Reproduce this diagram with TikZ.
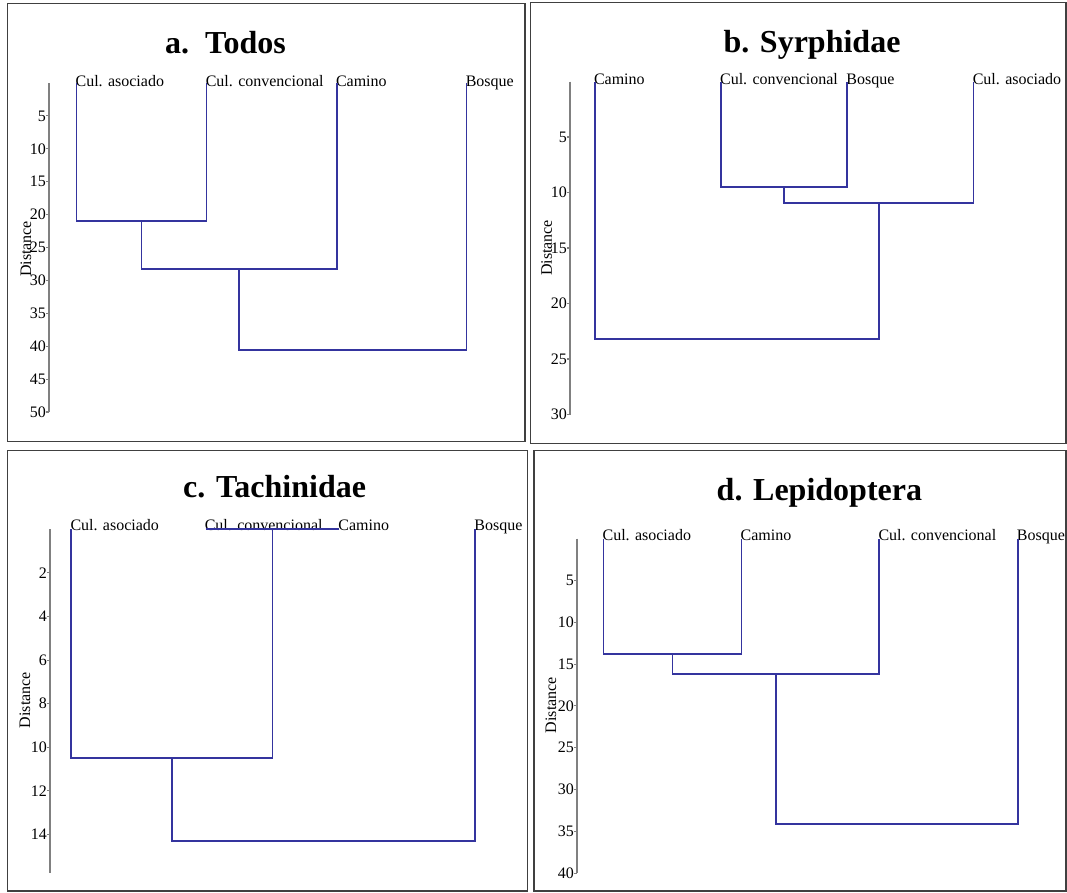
\documentclass[tikz,border=0pt]{standalone}
\usepackage{fontspec}
\setmainfont{Liberation Serif}
\definecolor{dendro}{RGB}{52,52,158}
\definecolor{axisgray}{RGB}{128,128,128}
\definecolor{framegray}{RGB}{64,64,64}
\tikzset{
  panelframe/.style={draw=framegray, line width=1.4pt},
  tree/.style={draw=dendro, line width=1.7pt},
  axisline/.style={draw=axisgray, line width=1.1pt},
  ticklab/.style={anchor=east, inner sep=0pt, font=\fontsize{16}{16}\selectfont},
  leaflab/.style={anchor=base west, inner sep=0pt, font=\fontsize{16}{16}\selectfont},
  titlelab/.style={anchor=base, inner sep=0pt, font=\fontsize{32}{32}\selectfont\bfseries},
  ylab/.style={rotate=90, inner sep=0pt, font=\fontsize{16}{16}\selectfont},
}
\begin{document}
\begin{tikzpicture}[x=1pt,y=-1pt]
\useasboundingbox (0,0) rectangle (1067,892);
\fill[white] (0,0) rectangle (1067,892);

% ---------------- Panel a ----------------
\draw[panelframe] (7.6,3.4) rectangle (525,441.7);
\node[titlelab] (ta) at (225.5,53) {a.\ \ Todos};
\coordinate (a0) at (49,83);
\coordinate (a50) at (49,412);
\draw[axisline] (a0) -- (a50);
\foreach \v in {5,10,...,50}{
  \draw[axisline] (46,83+6.58*\v) -- (49,83+6.58*\v);
  \node[ticklab] (at\v) at (46,83+6.58*\v) {\v};
}
\node[ylab] (ya) at (26,249) {Distance};
\coordinate (aL1) at (76.4,83);
\coordinate (aL2) at (206.6,83);
\coordinate (aL3) at (336.8,83);
\coordinate (aL4) at (466.6,83);
\node[leaflab] (an1) at (75.4,86) {Cul. asociado};
\node[leaflab] (an2) at (205.6,86) {Cul. convencional};
\node[leaflab] (an3) at (335.8,86) {Camino};
\node[leaflab] (an4) at (465.6,86) {Bosque};
\coordinate (aM1) at (141.5,220.7);
\coordinate (aM2) at (239.2,269);
\coordinate (aM3) at (352.9,350);
\draw[tree] (aL1) |- (aM1) -| (aL2);
\draw[tree] (aM1) |- (aM2) -| (aL3);
\draw[tree] (aM2) |- (aM3) -| (aL4);

% ---------------- Panel b ----------------
\draw[panelframe] (530.4,2.7) rectangle (1066,443.3);
\node[titlelab] (tb) at (812,52.7) {b. Syrphidae};
\coordinate (b0) at (570,81.5);
\coordinate (b30) at (570,414.5);
\draw[axisline] (b0) -- (b30);
\foreach \v in {5,10,...,30}{
  \draw[axisline] (567,81.5+11.1*\v) -- (570,81.5+11.1*\v);
  \node[ticklab] (bt\v) at (567,81.5+11.1*\v) {\v};
}
\node[ylab] (yb) at (546.6,248) {Distance};
\coordinate (bL1) at (594.8,81.5);
\coordinate (bL2) at (720.9,81.5);
\coordinate (bL3) at (847.2,81.5);
\coordinate (bL4) at (973.6,81.5);
\node[leaflab] (bn1) at (593.8,84) {Camino};
\node[leaflab] (bn2) at (719.9,84) {Cul. convencional};
\node[leaflab] (bn3) at (846.2,84) {Bosque};
\node[leaflab] (bn4) at (972.6,84) {Cul. asociado};
\coordinate (bM1) at (784,186.7);
\coordinate (bM2) at (878.8,203.3);
\coordinate (bM3) at (736.8,339.3);
\draw[tree] (bL2) |- (bM1) -| (bL3);
\draw[tree] (bM1) |- (bM2) -| (bL4);
\draw[tree] (bM2) |- (bM3) -| (bL1);

% ---------------- Panel c ----------------
\draw[panelframe] (7.6,450.3) rectangle (527.6,891);
\node[titlelab] (tc) at (274.6,497) {c. Tachinidae};
\coordinate (c0) at (50,529.3);
\coordinate (cEnd) at (50,873);
\draw[axisline] (c0) -- (cEnd);
\foreach \v in {2,4,...,14}{
  \draw[axisline] (47,529.3+21.8*\v) -- (50,529.3+21.8*\v);
  \node[ticklab] (ct\v) at (47,529.3+21.8*\v) {\v};
}
\node[ylab] (yc) at (24.8,700) {Distance};
\coordinate (cL1) at (71.3,529.3);
\coordinate (cL2) at (205.6,529.3);
\coordinate (cL3) at (339.2,529.3);
\coordinate (cL4) at (475.2,529.3);
\node[leaflab] (cn1) at (70.3,530.5) {Cul. asociado};
\node[leaflab] (cn2) at (204.6,530.5) {Cul. convencional};
\node[leaflab] (cn3) at (338.2,530.5) {Camino};
\node[leaflab] (cn4) at (474.2,530.5) {Bosque};
\coordinate (cM1) at (272.4,529.3);
\coordinate (cM2) at (171.9,757.7);
\coordinate (cM3) at (323.5,841);
\draw[tree] (cL2) -- (cL3);
\draw[tree] (cL1) |- (cM2) -| (cM1);
\draw[tree] (cM2) |- (cM3) -| (cL4);

% ---------------- Panel d ----------------
\draw[panelframe] (534,450.3) rectangle (1066,891);
\node[titlelab] (td) at (819.4,500) {d. Lepidoptera};
\coordinate (d0) at (577,538.7);
\coordinate (d40) at (577,873.1);
\draw[axisline] (d0) -- (d40);
\foreach \v in {5,10,...,40}{
  \draw[axisline] (574,538.7+8.36*\v) -- (577,538.7+8.36*\v);
  \node[ticklab] (dt\v) at (574,538.7+8.36*\v) {\v};
}
\node[ylab] (yd) at (551,705) {Distance};
\coordinate (dL1) at (603.4,538.7);
\coordinate (dL2) at (741.5,538.7);
\coordinate (dL3) at (879.3,538.7);
\coordinate (dL4) at (1017.7,538.7);
\node[leaflab] (dn1) at (602.4,540.3) {Cul. asociado};
\node[leaflab] (dn2) at (740.5,540.3) {Camino};
\node[leaflab] (dn3) at (878.3,540.3) {Cul. convencional};
\node[leaflab] (dn4) at (1016.7,540.3) {Bosque};
\coordinate (dM1) at (672.45,654.3);
\coordinate (dM2) at (775.9,674.3);
\coordinate (dM3) at (896.8,823.7);
\draw[tree] (dL1) |- (dM1) -| (dL2);
\draw[tree] (dM1) |- (dM2) -| (dL3);
\draw[tree] (dM2) |- (dM3) -| (dL4);
\end{tikzpicture}
\end{document}
